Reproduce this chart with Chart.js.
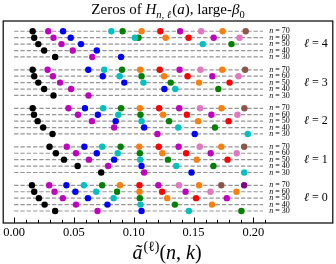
<!DOCTYPE html>
<html>
<head>
<meta charset="utf-8">
<script src="https://cdn.jsdelivr.net/npm/chart.js@4"></script>
<style>
  html, body { margin: 0; padding: 0; background: #fff; }
  #chart { display: block; }
</style>
</head>
<body>
<canvas id="chart" width="336" height="264"></canvas>
<script>
// rows inside each group, top to bottom
const nValues = [70, 60, 50, 40, 30];
const ellValues = [4, 3, 2, 1, 0];

// zeros a~(n,k), one list per n (70, 60, 50, 40, 30)
const zerosEll4 = [
  [0.0155, 0.0285, 0.0409, 0.0813, 0.0907, 0.1065, 0.1222, 0.1388, 0.1563, 0.1743, 0.1936],
  [0.0168, 0.0329, 0.0473, 0.1010, 0.1040, 0.1267, 0.1458, 0.1668, 0.1884],
  [0.0202, 0.0396, 0.0559, 0.1577, 0.1817],
  [0.0251, 0.0490, 0.0691],
  [0.0343, 0.0653, 0.0894]
];
const zerosEll3 = [
  [0.0155, 0.0280, 0.0620, 0.0753, 0.0902, 0.1054, 0.1217, 0.1383, 0.1558, 0.1740, 0.1931],
  [0.0168, 0.0324, 0.0741, 0.0882, 0.1065, 0.1253, 0.1450, 0.1657, 0.1876],
  [0.0202, 0.0384, 0.0921, 0.1081, 0.1309, 0.1546, 0.1801],
  [0.0251, 0.0476, 0.1256, 0.1347, 0.1707],
  [0.0329, 0.0622]
];
const zerosEll2 = [
  [0.0155, 0.0454, 0.0592, 0.0744, 0.0894, 0.1051, 0.1212, 0.1380, 0.1554, 0.1734, 0.1925],
  [0.0166, 0.0534, 0.0700, 0.0871, 0.1056, 0.1245, 0.1444, 0.1649, 0.1867],
  [0.0197, 0.0650, 0.0849, 0.1065, 0.1295, 0.1538, 0.1793],
  [0.0243, 0.0836, 0.1087, 0.1372, 0.1679],
  [0.0321, 0.1198, 0.1510, 0.1953]
];
const zerosEll1 = [
  [0.0296, 0.0440, 0.0587, 0.0736, 0.0890, 0.1046, 0.1209, 0.1375, 0.1552, 0.1732, 0.1923],
  [0.0349, 0.0517, 0.0691, 0.0866, 0.1051, 0.1239, 0.1438, 0.1643, 0.1861],
  [0.0417, 0.0625, 0.0836, 0.1054, 0.1286, 0.1527, 0.1784],
  [0.0531, 0.0786, 0.1065, 0.1355, 0.1666],
  [0.0728, 0.1087, 0.1483, 0.1923]
];
const zerosEll0 = [
  [0.0149, 0.0293, 0.0437, 0.0583, 0.0736, 0.0885, 0.1048, 0.1206, 0.1378, 0.1546, 0.1732, 0.1923],
  [0.0168, 0.0338, 0.0512, 0.0686, 0.0861, 0.1048, 0.1237, 0.1433, 0.1641, 0.1859],
  [0.0207, 0.0407, 0.0617, 0.0832, 0.1051, 0.1280, 0.1521, 0.1778],
  [0.0255, 0.0517, 0.0780, 0.1056, 0.1344, 0.1654],
  [0.0343, 0.0697, 0.1065, 0.1461, 0.1900]
];
const zerosAll = [zerosEll4, zerosEll3, zerosEll2, zerosEll1, zerosEll0];

// colour of the k-th zero
const zeroColors = ['#000000', '#bf00bf', '#0000ff', '#00bfbf', '#008000', '#ff7f0e',
                    '#ff0000', '#bf00bf', '#e377c2', '#ff7f0e', '#8c564b', '#800080'];

const tickValues = [0.00, 0.01, 0.02, 0.03, 0.04, 0.05, 0.06, 0.07, 0.08, 0.09, 0.10,
                    0.11, 0.12, 0.13, 0.14, 0.15, 0.16, 0.17, 0.18, 0.19, 0.20, 0.21];
const tickLabels = ['0.00', '0.05', '0.10', '0.15', '0.20'];
const dashStart = 0.0;
const dashEnd = 0.208;
const rowLabelX = 0.2133;
const ellLabelX = 0.2523;

function rowY(ell, n) { return 6 * ell + (n - 30) / 10; }

const datasets = [];
ellValues.forEach((ell, gi) => {
  nValues.forEach(n => {
    datasets.push({
      data: [{x: dashStart, y: rowY(ell, n)}, {x: dashEnd, y: rowY(ell, n)}],
      showLine: true, borderColor: '#959595', borderWidth: 1.2, borderDash: [4.3, 2],
      pointRadius: 0, order: 1
    });
  });
});
zeroColors.forEach((col, k) => {
  const pts = [];
  ellValues.forEach((ell, gi) => {
    nValues.forEach((n, ri) => {
      const row = zerosAll[gi][ri];
      if (k < row.length) pts.push({x: row[k], y: rowY(ell, n)});
    });
  });
  datasets.push({
    data: pts, backgroundColor: col, borderColor: col, borderWidth: 0,
    pointRadius: 3.2, pointHoverRadius: 3.2, order: 0
  });
});

const SERIF = '"Liberation Serif", "DejaVu Serif", serif';

function drawSegments(ctx, segs, cx, baseY) {
  let total = 0;
  segs.forEach(s => { ctx.font = s.font; s.w = ctx.measureText(s.t).width + (s.gap || 0); total += s.w; });
  let xp = cx - total / 2;
  ctx.textAlign = 'left';
  ctx.textBaseline = 'alphabetic';
  segs.forEach(s => { ctx.font = s.font; ctx.fillText(s.t, xp, baseY + (s.dy || 0)); xp += s.w; });
}

const decor = {
  id: 'decor',
  afterDraw(chart) {
    const {ctx, chartArea: a, scales: {x, y}} = chart;
    ctx.save();
    ctx.strokeStyle = '#000';
    ctx.fillStyle = '#000';
    // frame
    ctx.lineWidth = 1.2;
    ctx.strokeRect(a.left, a.top, a.right - a.left, a.bottom - a.top);
    // inward ticks
    ctx.lineWidth = 1;
    tickValues.forEach(v => {
      const px = Math.round(x.getPixelForValue(v)) + 0.5;
      const major = tickLabels.includes(v.toFixed(2));
      ctx.beginPath();
      ctx.moveTo(px, a.bottom);
      ctx.lineTo(px, a.bottom - (major ? 5.5 : 3.2));
      ctx.stroke();
    });
    ctx.font = '12.5px ' + SERIF;
    ctx.textAlign = 'center';
    ctx.textBaseline = 'alphabetic';
    tickLabels.forEach(t => ctx.fillText(t, x.getPixelForValue(parseFloat(t)), 236));

    // row labels and group labels
    ctx.textBaseline = 'middle';
    ellValues.forEach(ell => {
      nValues.forEach(n => {
        const py = y.getPixelForValue(rowY(ell, n));
        let px = x.getPixelForValue(rowLabelX);
        ctx.textAlign = 'left';
        ctx.font = 'italic 8px ' + SERIF;
        ctx.fillText('n', px, py);
        px += ctx.measureText('n').width;
        ctx.font = '8px ' + SERIF;
        ctx.fillText(' = ' + n, px, py);
      });
      const gy = y.getPixelForValue(rowY(ell, 50));
      const gx = x.getPixelForValue(ellLabelX);
      ctx.font = 'italic 12px ' + SERIF;
      const w1 = ctx.measureText('\u2113').width;
      ctx.font = '12px ' + SERIF;
      const w2 = ctx.measureText(' = ' + ell).width;
      let sx = gx - (w1 + w2) / 2;
      ctx.textAlign = 'left';
      ctx.font = 'italic 12px ' + SERIF;
      ctx.fillText('\u2113', sx, gy);
      ctx.font = '12px ' + SERIF;
      ctx.fillText(' = ' + ell, sx + w1, gy);
    });

    // title
    const T = 15;
    drawSegments(ctx, [
      {t: 'Zeros of ', font: T + 'px ' + SERIF},
      {t: 'H', font: 'italic ' + T + 'px ' + SERIF},
      {t: 'n, \u2113', font: 'italic ' + (T * 0.7) + 'px ' + SERIF, dy: 3.5, gap: 1},
      {t: '(', font: T + 'px ' + SERIF},
      {t: 'a', font: 'italic ' + T + 'px ' + SERIF},
      {t: '), large-', font: T + 'px ' + SERIF},
      {t: '\u03b2', font: 'italic ' + T + 'px ' + SERIF},
      {t: '0', font: (T * 0.7) + 'px ' + SERIF, dy: 3.5}
    ], 168, 14);

    // x axis label
    const S = 20;
    drawSegments(ctx, [
      {t: '\u00e3', font: 'italic ' + S + 'px ' + SERIF, gap: 1},
      {t: '(\u2113)', font: (S * 0.7) + 'px ' + SERIF, dy: -8},
      {t: '(', font: S + 'px ' + SERIF},
      {t: 'n', font: 'italic ' + S + 'px ' + SERIF},
      {t: ', ', font: S + 'px ' + SERIF},
      {t: 'k', font: 'italic ' + S + 'px ' + SERIF},
      {t: ')', font: S + 'px ' + SERIF}
    ], 167, 259);
    ctx.restore();
  }
};

new Chart(document.getElementById('chart'), {
  type: 'scatter',
  data: { datasets },
  options: {
    responsive: false,
    animation: false,
    devicePixelRatio: 1,
    layout: { padding: { left: 2, right: 2, top: 21, bottom: 41 } },
    plugins: { legend: { display: false }, tooltip: { enabled: false }, title: { display: false } },
    scales: {
      x: { type: 'linear', min: -0.00913, max: 0.2664, display: false },
      y: { type: 'linear', min: -1.87, max: 29.6, display: false }
    }
  },
  plugins: [decor]
});
</script>
</body>
</html>
